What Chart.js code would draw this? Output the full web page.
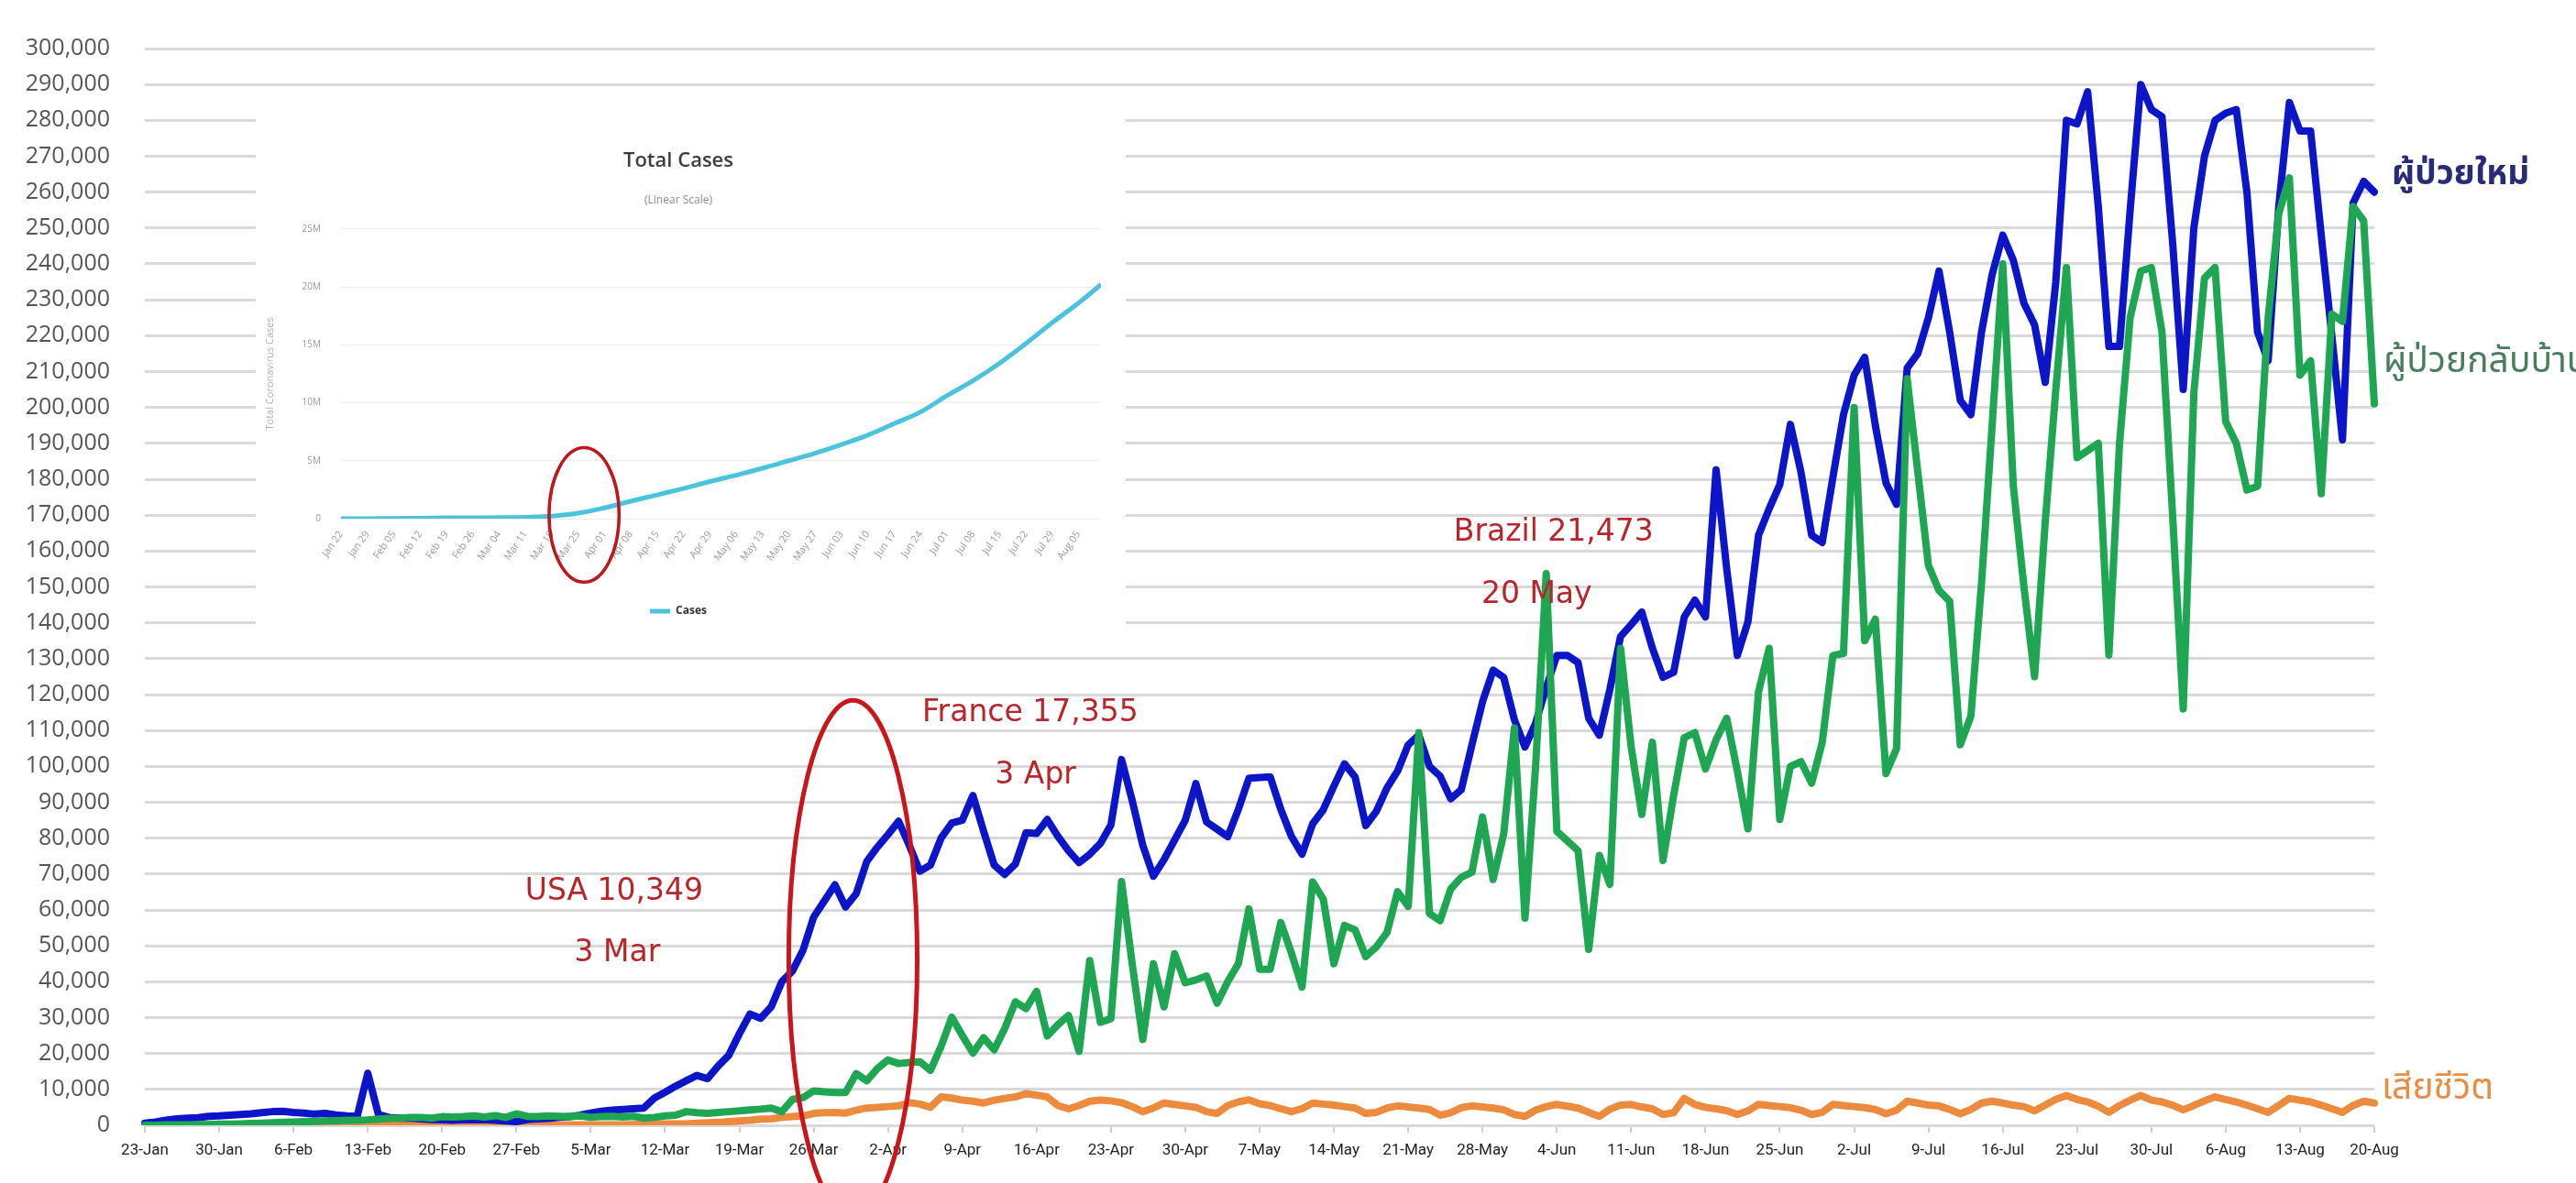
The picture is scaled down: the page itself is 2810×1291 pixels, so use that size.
<!DOCTYPE html>
<html>
<head>
<meta charset="utf-8">
<title>Daily cases</title>
<script src="https://cdn.jsdelivr.net/npm/chart.js@4.4.1/dist/chart.umd.min.js"></script>
<style>
  html, body { margin: 0; padding: 0; background: #fff; overflow: hidden; }
  #wrap { position: relative; width: 2810px; height: 1291px; }
  #mainChart { position: absolute; left: 0; top: 0; }
  #insetBox { position: absolute; left: 279px; top: 128px; width: 949px; height: 562px; background: #fff; }
</style>
</head>
<body>
<div id="wrap">
  <canvas id="mainChart" width="2810" height="1291"></canvas>
  <div id="insetBox"><canvas id="insetChart" width="949" height="562"></canvas></div>
</div>
<script>
// week tick labels of the main chart (one every 7 days, first day = 23-Jan)
const tickLabels = ['23-Jan', '30-Jan', '6-Feb', '13-Feb', '20-Feb', '27-Feb', '5-Mar', '12-Mar', '19-Mar',
  '26-Mar', '2-Apr', '9-Apr', '16-Apr', '23-Apr', '30-Apr', '7-May', '14-May', '21-May', '28-May', '4-Jun',
  '11-Jun', '18-Jun', '25-Jun', '2-Jul', '9-Jul', '16-Jul', '23-Jul', '30-Jul', '6-Aug', '13-Aug', '20-Aug'];

// daily new cases (blue), one row per week
const newCases = [
  600, 900, 1400, 1800, 2000, 2100, 2500,
  2600, 2800, 3000, 3200, 3500, 3800, 3900,
  3600, 3400, 3100, 3300, 2900, 2600, 2500,
  14500, 3000, 2200, 2000, 2000, 1800, 1600,
  1500, 1400, 1600, 1500, 1600, 1400, 1200,
  1000, 1600, 1800, 1900, 2200, 2400, 2800,
  3400, 3900, 4200, 4400, 4600, 4800, 7600,
  9200, 10900, 12400, 13900, 13000, 16500, 19500,
  25500, 31000, 29800, 33000, 40000, 43000, 48800,
  58000, 62500, 67000, 60800, 64500, 73500, 77500,
  81000, 84700, 78000, 70800, 72500, 80000, 84200,
  85000, 91900, 82000, 72500, 69900, 72800, 81500,
  81300, 85200, 80500, 76500, 73200, 75500, 78500,
  83700, 101900, 90500, 78000, 69400, 74000, 79500,
  85000, 95200, 84500, 82500, 80400, 88000, 96700,
  96900, 97100, 88000, 80500, 75500, 84000, 87900,
  94500, 100700, 97000, 83500, 87500, 94000, 98700,
  106000, 108700, 100000, 97300, 91000, 93500, 106000,
  118000, 126800, 124800, 113000, 105400, 112000, 122000,
  130900, 130900, 128900, 113400, 108700, 121500, 136200,
  139500, 143000, 132900, 124800, 126200, 141600, 146300,
  141600, 182600, 155000, 130900, 140300, 164400, 171800,
  178500, 195300, 181900, 164400, 162400, 180500, 198000,
  209000, 214000, 195000, 179000, 173000, 211000, 215000,
  225000, 238000, 221000, 202000, 198000, 221000, 237000,
  248000, 241000, 229000, 223000, 207000, 235000, 280000,
  279000, 288000, 256000, 217000, 217000, 255000, 290000,
  283000, 281000, 246000, 205000, 250000, 270000, 280000,
  282000, 283000, 260000, 221000, 213000, 256000, 285000,
  277000, 277000, 248000, 220000, 191000, 257000, 263000,
  260000
];

// daily recovered (green)
const recovered = [
  0, 0, 100, 100, 100, 200, 200,
  300, 300, 400, 500, 600, 700, 800,
  900, 1000, 1100, 1200, 1300, 1400, 1400,
  1500, 1700, 1900, 2000, 2200, 2200, 2000,
  2400, 2300, 2400, 2600, 2300, 2700, 2200,
  3200, 2500, 2400, 2600, 2500, 2400, 2600,
  2200, 2400, 2500, 2300, 2500, 2000, 2200,
  2600, 2800, 3800, 3500, 3300, 3600, 3800,
  4000, 4300, 4500, 4800, 3800, 7200, 7700,
  9600, 9300, 9100, 9100, 14400, 12400, 15800,
  18200, 17200, 17500, 17700, 15300, 22000, 30100,
  25000, 20100, 24400, 21000, 27000, 34400, 32500,
  37300, 24900, 28000, 30600, 20600, 45900, 28700,
  29700, 67900, 45000, 23900, 45000, 33000, 47800,
  39700, 40500, 41600, 34000, 40000, 45000, 60300,
  43500, 43500, 56500, 48000, 38500, 67800, 63000,
  45000, 55700, 54400, 47000, 49700, 53700, 65100,
  61000, 109400, 59000, 57000, 65800, 69100, 70500,
  85900, 68500, 81200, 110700, 57700, 100000, 153700,
  81900, 79200, 76500, 49000, 75200, 67100, 132900,
  105400, 86600, 106700, 73800, 91900, 108000, 109400,
  99300, 107400, 113400, 98700, 82600, 120800, 132900,
  85200, 100000, 101300, 95300, 106700, 130900, 131500,
  200000, 135000, 141000, 98000, 105000, 208000, 182000,
  156000, 149000, 146000, 106000, 114000, 151000, 195000,
  240000, 178000, 150000, 125000, 168000, 205000, 239000,
  186000, 188000, 190000, 131000, 190000, 225000, 238000,
  239000, 221000, 170000, 116000, 204000, 236000, 239000,
  196000, 190000, 177000, 178000, 225000, 254000, 264000,
  209000, 213000, 176000, 226000, 224000, 256000, 252000,
  201000
];

// daily deaths (orange)
const deaths = [
  20, 30, 30, 40, 50, 60, 60,
  70, 90, 100, 100, 100, 100, 100,
  100, 100, 100, 100, 100, 100, 100,
  200, 100, 100, 100, 100, 100, 100,
  100, 100, 100, 100, 100, 100, 100,
  100, 100, 100, 100, 100, 100, 100,
  100, 100, 100, 100, 200, 300, 300,
  400, 400, 400, 600, 700, 800, 1000,
  1200, 1400, 1700, 1800, 2200, 2400, 2600,
  3300, 3500, 3600, 3400, 4200, 4800, 5000,
  5200, 5400, 6300, 5900, 5000, 7900, 7600,
  7000, 6700, 6200, 7000, 7500, 7900, 8800,
  8400, 7900, 5500, 4600, 5500, 6700, 7000,
  6800, 6300, 5200, 3800, 4800, 6200, 5800,
  5400, 5000, 3800, 3300, 5500, 6500, 7100,
  6000, 5500, 4600, 3800, 4600, 6200, 5900,
  5600, 5200, 4800, 3300, 3600, 4800, 5400,
  5100, 4800, 4400, 2800, 3500, 4900, 5400,
  5100, 4800, 4300, 3000, 2500, 4200, 5200,
  5800, 5300, 4800, 3600, 2500, 4500, 5600,
  5800, 5100, 4600, 3000, 3500, 7500, 5800,
  5000, 4600, 4100, 3000, 4000, 5800, 5500,
  5200, 4900, 4200, 3000, 3600, 5800, 5500,
  5200, 4900, 4400, 3200, 4200, 6700, 6200,
  5600, 5400, 4400, 3200, 4400, 6200, 6700,
  6200, 5600, 5200, 4000, 5600, 7200, 8300,
  7200, 6500, 5300, 3600, 5500, 7000, 8300,
  7000, 6500, 5600, 4300, 5500, 6800, 7900,
  7200, 6500, 5600, 4600, 3600, 5500, 7500,
  7000, 6500, 5600, 4600, 3600, 5500, 6700,
  6200
];

// inset "Total Cases" chart (millions), one point a week from Jan 22
const insetTickLabels = ['Jan 22', 'Jan 29', 'Feb 05', 'Feb 12', 'Feb 19', 'Feb 26', 'Mar 04', 'Mar 11',
  'Mar 18', 'Mar 25', 'Apr 01', 'Apr 08', 'Apr 15', 'Apr 22', 'Apr 29', 'May 06', 'May 13', 'May 20',
  'May 27', 'Jun 03', 'Jun 10', 'Jun 17', 'Jun 24', 'Jul 01', 'Jul 08', 'Jul 15', 'Jul 22', 'Jul 29', 'Aug 05'];
const insetDays = [0, 7, 14, 21, 28, 35, 42, 49, 56, 63, 70, 77, 84, 91, 98, 105, 112, 119, 126, 133,
  140, 147, 154, 161, 168, 175, 182, 189, 196, 202];
const insetCases = [0.0006, 0.006, 0.028, 0.045, 0.076, 0.083, 0.095, 0.126, 0.22, 0.47, 0.93, 1.5,
  2.05, 2.6, 3.2, 3.75, 4.35, 5.0, 5.65, 6.4, 7.2, 8.2, 9.2, 10.6, 11.9, 13.4, 15.1, 16.9, 18.6, 20.2];

// red notes on the main chart, placed in data units (day index, value)
const notes = [
  { text: 'USA 10,349', day: 44.2, value: 65000 },
  { text: '3 Mar', day: 44.5, value: 48000 },
  { text: 'France 17,355', day: 83.4, value: 114800 },
  { text: '3 Apr', day: 83.9, value: 97400 },
  { text: 'Brazil 21,473', day: 132.7, value: 165000 },
  { text: '20 May', day: 131.1, value: 147800 }
];
const mainRing = { day: 66.7, value: 46300, rxDays: 6.05, ryValue: 72100 };
const insetRing = { day: 64.6, value: 0.32, rxDays: 9.3, ryValue: 5.8 };

// series names drawn at the right end of each line
const seriesNames = [
  { text: 'ผู้ป่วยใหม่', value: 264000, dx: 19, color: '#282b78', weight: 'bold', size: 37 },
  { text: 'ผู้ป่วยกลับบ้าน', value: 212000, dx: 10, color: '#4b7d5c', weight: 'normal', size: 39 },
  { text: 'เสียชีวิต', value: 9500, dx: 8, color: '#e98d45', weight: 'normal', size: 39 }
];

const dayLabels = newCases.map((_, i) => (i % 7 === 0 ? tickLabels[i / 7] : ''));
const thaiFont = "'Noto Sans Thai', 'Noto Sans', Tahoma, sans-serif";

// draws ring, notes and series names on top of the lines
const notesPlugin = {
  id: 'notes',
  afterDraw(chart) {
    const { ctx, chartArea } = chart;
    const x = chart.scales.x, y = chart.scales.y;
    ctx.save();

    const cx = x.getPixelForValue(mainRing.day);
    const cy = y.getPixelForValue(mainRing.value);
    const rx = x.getPixelForValue(mainRing.day + mainRing.rxDays) - cx;
    const ry = cy - y.getPixelForValue(mainRing.value + mainRing.ryValue);
    ctx.beginPath();
    ctx.ellipse(cx, cy, rx, ry, 0, 0, Math.PI * 2);
    ctx.lineWidth = 5;
    ctx.strokeStyle = '#c8161d';
    ctx.stroke();

    ctx.font = "33px 'DejaVu Sans', Verdana, sans-serif";
    ctx.fillStyle = '#b8262c';
    ctx.textAlign = 'center';
    ctx.textBaseline = 'middle';
    notes.forEach(n => {
      ctx.fillText(n.text, x.getPixelForValue(n.day), y.getPixelForValue(n.value));
    });

    ctx.textAlign = 'left';
    seriesNames.forEach(s => {
      ctx.font = s.weight + ' ' + s.size + 'px ' + thaiFont;
      ctx.fillStyle = s.color;
      ctx.fillText(s.text, chartArea.right + s.dx, y.getPixelForValue(s.value));
    });
    ctx.restore();
  }
};

new Chart(document.getElementById('mainChart'), {
  type: 'line',
  data: {
    labels: dayLabels,
    datasets: [
      { label: 'ผู้ป่วยใหม่', data: newCases, borderColor: '#0c15c8', order: 1 },
      { label: 'ผู้ป่วยกลับบ้าน', data: recovered, borderColor: '#1ea653', order: 0 },
      { label: 'เสียชีวิต', data: deaths, borderColor: '#ec8a3e', order: 2 }
    ]
  },
  options: {
    responsive: false,
    animation: false,
    layout: { padding: { top: 30, right: 220, bottom: 0, left: 0 } },
    elements: {
      line: { borderWidth: 8, borderJoinStyle: 'round', borderCapStyle: 'round', tension: 0 },
      point: { radius: 0 }
    },
    plugins: {
      legend: { display: false },
      tooltip: { enabled: false }
    },
    scales: {
      x: {
        grid: {
          drawOnChartArea: false,
          tickLength: 8,
          lineWidth: 2,
          color: c => (c.index % 7 === 0 ? '#d0d0d0' : 'rgba(0,0,0,0)')
        },
        border: { display: false },
        ticks: {
          autoSkip: false, maxRotation: 0, minRotation: 0, padding: 10,
          color: '#222', font: { family: 'Roboto', size: 17 }
        },
        afterFit: s => { s.height = 63; }
      },
      y: {
        min: 0,
        max: 300000,
        grid: { color: '#d9d9d9', lineWidth: 3, drawTicks: false },
        border: { display: false },
        ticks: {
          stepSize: 10000, padding: 38, color: '#555',
          font: { family: 'Open Sans', size: 25 },
          callback: v => v.toLocaleString('en-US')
        },
        afterFit: s => { s.width = 158; }
      }
    }
  },
  plugins: [notesPlugin]
});

// red ring on the inset
const insetRingPlugin = {
  id: 'insetRing',
  afterDraw(chart) {
    const { ctx } = chart;
    const x = chart.scales.x, y = chart.scales.y;
    const cx = x.getPixelForValue(insetRing.day);
    const cy = y.getPixelForValue(insetRing.value);
    const rx = x.getPixelForValue(insetRing.day + insetRing.rxDays) - cx;
    const ry = cy - y.getPixelForValue(insetRing.value + insetRing.ryValue);
    ctx.save();
    ctx.beginPath();
    ctx.ellipse(cx, cy, rx, ry, 0, 0, Math.PI * 2);
    ctx.lineWidth = 3.5;
    ctx.strokeStyle = '#c0161e';
    ctx.stroke();
    ctx.restore();
  }
};

new Chart(document.getElementById('insetChart'), {
  type: 'line',
  data: {
    datasets: [{
      label: 'Cases',
      data: insetDays.map((d, i) => ({ x: d, y: insetCases[i] })),
      borderColor: '#4cc3dc',
      backgroundColor: '#4cc3dc',
      borderWidth: 5,
      pointRadius: 0,
      pointStyle: 'line',
      tension: 0.4
    }]
  },
  options: {
    responsive: false,
    animation: false,
    layout: { padding: { top: 35, right: 27, bottom: 7, left: 0 } },
    plugins: {
      title: {
        display: true, text: 'Total Cases', color: '#3d3d3d', padding: 0,
        font: { family: 'Open Sans', size: 22, weight: '600' }
      },
      subtitle: {
        display: true, text: '(Linear Scale)', color: '#8a8a8a', padding: { top: 22, bottom: 24 },
        font: { family: 'Open Sans', size: 12 }
      },
      legend: {
        position: 'bottom',
        labels: {
          usePointStyle: true, pointStyleWidth: 22, color: '#333',
          font: { family: 'Open Sans', size: 12, weight: 'bold' }
        }
      },
      tooltip: { enabled: false }
    },
    scales: {
      x: {
        type: 'linear', min: 0, max: 202,
        grid: { display: false },
        border: { display: false },
        ticks: {
          stepSize: 7, autoSkip: false, minRotation: 55, maxRotation: 55, color: '#9a9a9a',
          font: { family: 'Open Sans', size: 11 },
          callback: v => (v % 7 === 0 && insetTickLabels[v / 7]) ? insetTickLabels[v / 7] : ''
        },
        afterFit: s => { s.height = 85; }
      },
      y: {
        min: 0, max: 25,
        grid: { color: '#ececec', drawTicks: false },
        border: { display: false },
        title: {
          display: true, text: 'Total Coronavirus Cases', color: '#b3b3b3', padding: { top: 9 },
          font: { family: 'Open Sans', size: 11 }
        },
        ticks: {
          stepSize: 5, padding: 22, color: '#9a9a9a',
          font: { family: 'Open Sans', size: 10 },
          callback: v => (v === 0 ? '0' : v + 'M')
        },
        afterFit: s => { s.width = 93; }
      }
    }
  },
  plugins: [insetRingPlugin]
});
</script>
</body>
</html>
